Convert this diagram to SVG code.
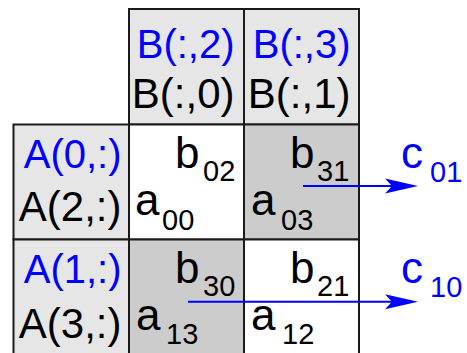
<svg xmlns="http://www.w3.org/2000/svg" width="467" height="353" viewBox="0 0 467 353">
<defs>
<style>
.hdr{fill:#e6e6e6;stroke:#1a1a1a;stroke-width:2}
.dark{fill:#cccccc;stroke:#1a1a1a;stroke-width:2}
.white{fill:#ffffff;stroke:#1a1a1a;stroke-width:2}
text{font-family:"Liberation Sans",Arial,sans-serif}
.blue{fill:#0000ff;font-size:40px}
.blk{fill:#000000;font-size:42px}
.end{text-anchor:end}
.big{font-size:44px;fill:#000}
.sub{font-size:29px}
.cb{fill:#0000ff;font-size:44px}
.conn{stroke:#0000ff;stroke-width:2;fill:none}
</style>
<marker id="ah" markerWidth="34" markerHeight="16" viewBox="0 0 34 16" refX="33" refY="8" markerUnits="userSpaceOnUse" orient="auto">
<path d="M34,8 L0,0.5 L8,8 L0,15.5 Z" fill="#0000ff"/>
</marker>
</defs>
<g id="colhead0">
<rect class="hdr" x="129" y="9" width="115" height="115.5"/>
<text class="blue end" x="234.5" y="58">B(:,2)</text>
<text class="blk end" x="234.5" y="108">B(:,0)</text>
</g>
<g id="colhead1">
<rect class="hdr" x="244" y="9" width="115" height="115.5"/>
<text class="blue end" x="350.5" y="58">B(:,3)</text>
<text class="blk end" x="350.5" y="108">B(:,1)</text>
</g>
<g id="rowhead0">
<rect class="hdr" x="13.5" y="124.5" width="115.5" height="115"/>
<text class="blue end" x="121.5" y="168">A(0,:)</text>
<text class="blk end" x="121.5" y="221">A(2,:)</text>
</g>
<g id="rowhead1">
<rect class="hdr" x="13.5" y="239.5" width="115.5" height="125"/>
<text class="blue end" x="121.5" y="283">A(1,:)</text>
<text class="blk end" x="121.5" y="338">A(3,:)</text>
</g>
<g id="cell00">
<rect class="white" x="129" y="124.5" width="115" height="115"/>
<text class="big" x="175" y="168">b<tspan class="sub" x="203" y="181">02</tspan></text>
<text class="big" x="135" y="215">a<tspan class="sub" x="162" y="230">00</tspan></text>
</g>
<g id="cell01">
<rect class="dark" x="244" y="124.5" width="115" height="115"/>
<text class="big" x="290" y="168">b<tspan class="sub" x="317" y="181">31</tspan></text>
<text class="big" x="251" y="215">a<tspan class="sub" x="281" y="230">03</tspan></text>
</g>
<g id="cell10">
<rect class="dark" x="129" y="239.5" width="115" height="125"/>
<text class="big" x="175" y="283">b<tspan class="sub" x="203" y="296">30</tspan></text>
<text class="big" x="136" y="330">a<tspan class="sub" x="166" y="344">13</tspan></text>
</g>
<g id="cell11">
<rect class="white" x="244" y="239.5" width="115" height="125"/>
<text class="big" x="290" y="283">b<tspan class="sub" x="317" y="296">21</tspan></text>
<text class="big" x="251" y="330">a<tspan class="sub" x="282" y="344">12</tspan></text>
</g>
<g id="c01">
<text class="cb" x="401" y="168">c<tspan class="sub" x="430" y="182">01</tspan></text>
</g>
<g id="c10">
<text class="cb" x="401" y="283">c<tspan class="sub" x="430" y="297">10</tspan></text>
</g>
<g id="connectors">
<line class="conn" x1="303" y1="186" x2="392" y2="186"/>
<line class="conn" x1="188" y1="301.7" x2="392" y2="301.7"/>
<path d="M418,186 L385,178.5 L392,186 L385,193.5 Z" fill="#0000ff"/>
<path d="M418,301.7 L385,294.2 L392,301.7 L385,309.2 Z" fill="#0000ff"/>
</g>
</svg>
